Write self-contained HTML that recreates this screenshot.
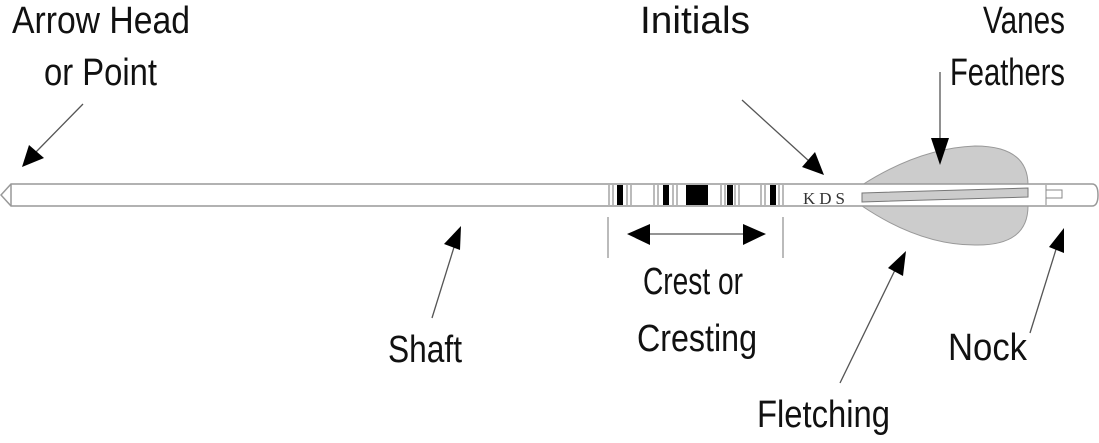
<!DOCTYPE html>
<html><head><style>body{margin:0;background:#fff}svg{display:block}</style></head><body>
<svg width="1099" height="443" viewBox="0 0 1099 443" xmlns="http://www.w3.org/2000/svg">
<g font-family="Liberation Sans, sans-serif" font-size="38" fill="#111">
<text x="12" y="33" textLength="178" lengthAdjust="spacingAndGlyphs">Arrow Head</text>
<text x="44" y="85" textLength="113" lengthAdjust="spacingAndGlyphs">or Point</text>
<text x="640" y="33" textLength="110" lengthAdjust="spacingAndGlyphs">Initials</text>
<text x="983" y="33" textLength="82" lengthAdjust="spacingAndGlyphs">Vanes</text>
<text x="950" y="85" textLength="115" lengthAdjust="spacingAndGlyphs">Feathers</text>
<text x="388" y="362" textLength="74" lengthAdjust="spacingAndGlyphs">Shaft</text>
<text x="643" y="294" textLength="100" lengthAdjust="spacingAndGlyphs">Crest or</text>
<text x="637" y="351" textLength="120" lengthAdjust="spacingAndGlyphs">Cresting</text>
<text x="948" y="360" textLength="79" lengthAdjust="spacingAndGlyphs">Nock</text>
<text x="757" y="427" textLength="133" lengthAdjust="spacingAndGlyphs">Fletching</text>
</g>
<!-- vane -->
<path d="M862,185 Q920,148 975,146 Q1028,146 1028,185 L1028,206 Q1028,246 975,245 Q920,245 862,206 Z" fill="#ccc" stroke="#999" stroke-width="1"/>
<!-- shaft -->
<path d="M11,184 L1092,184 Q1098,184 1098,195 Q1098,206 1092,206 L11,206 L1,195 Z" fill="#fff" stroke="#999" stroke-width="1.5"/>
<line x1="11" y1="184" x2="11" y2="206" stroke="#999" stroke-width="1.5"/>
<path d="M862,193 L1028,188 L1028,197 L862,202 Z" fill="#ccc" stroke="#777" stroke-width="1"/>
<!-- crest bands -->
<g stroke="#555" stroke-width="0.8">
<line x1="609" y1="185" x2="609" y2="205"/><line x1="613" y1="185" x2="613" y2="205"/><line x1="627" y1="185" x2="627" y2="205"/><line x1="631" y1="185" x2="631" y2="205"/>
<line x1="654" y1="185" x2="654" y2="205"/><line x1="658" y1="185" x2="658" y2="205"/><line x1="673" y1="185" x2="673" y2="205"/><line x1="677" y1="185" x2="677" y2="205"/>
<line x1="721" y1="185" x2="721" y2="205"/><line x1="725" y1="185" x2="725" y2="205"/><line x1="735" y1="185" x2="735" y2="205"/><line x1="739" y1="185" x2="739" y2="205"/>
<line x1="761" y1="185" x2="761" y2="205"/><line x1="765" y1="185" x2="765" y2="205"/><line x1="779" y1="185" x2="779" y2="205"/><line x1="783" y1="185" x2="783" y2="205"/>
</g>
<g fill="#000">
<rect x="617" y="185" width="6" height="20"/><rect x="663" y="185" width="6" height="20"/><rect x="686" y="185" width="22" height="20"/><rect x="727" y="185" width="6" height="20"/><rect x="770" y="185" width="6" height="20"/>
</g>
<text x="803" y="204" font-family="Liberation Serif, serif" font-size="17" fill="#333" letter-spacing="4">KDS</text>
<!-- nock -->
<line x1="1046" y1="185" x2="1046" y2="205" stroke="#888"/>
<rect x="1046" y="190" width="16" height="8" fill="none" stroke="#888"/>
<!-- dividers -->
<line x1="608" y1="217" x2="608" y2="258" stroke="#777"/>
<line x1="783" y1="217" x2="783" y2="258" stroke="#777"/>
<!-- arrows -->
<g stroke="#555" stroke-width="1.3">
<line x1="83" y1="104" x2="35" y2="153"/>
<line x1="742" y1="100" x2="810" y2="162"/>
<line x1="940" y1="72" x2="940" y2="145"/>
<line x1="432" y1="318" x2="455" y2="244"/>
<line x1="640" y1="234" x2="752" y2="234"/>
<line x1="840" y1="383" x2="897" y2="266"/>
<line x1="1030" y1="333" x2="1058" y2="243"/>
</g>
<g fill="#000">
<polygon points="22,167 29,145 44,158"/>
<polygon points="824,175 802,167 815,152"/>
<polygon points="940,165 931,138 949,138"/>
<polygon points="461,226 460,250 444,244"/>
<polygon points="627,234 650,224 650,245"/>
<polygon points="766,234 743,224 743,245"/>
<polygon points="906,251 903,276 888,268"/>
<polygon points="1064,228 1064,253 1049,247"/>
</g>
</svg>
</body></html>
